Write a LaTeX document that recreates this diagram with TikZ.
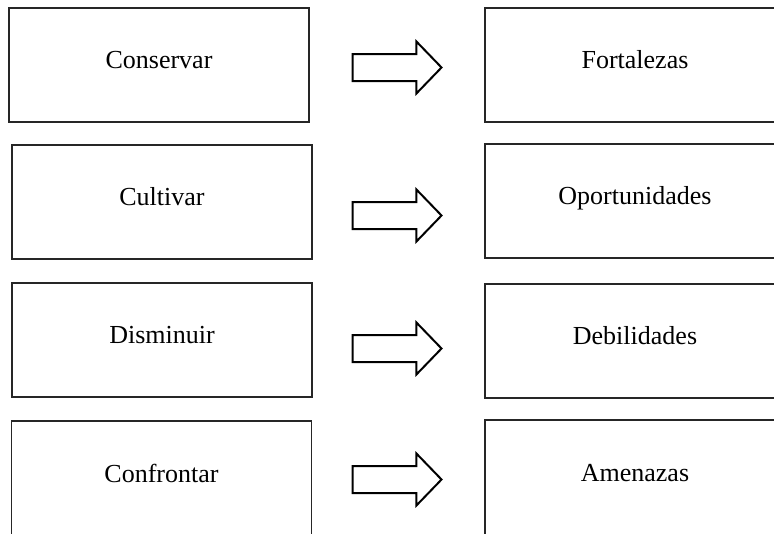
\documentclass[tikz,border=0pt]{standalone}
\usepackage{fontspec}
\setmainfont{Liberation Serif}
\usetikzlibrary{shapes.arrows}
\begin{document}
\begin{tikzpicture}[x=1pt,y=-1pt,
  box/.style={draw=black!85,line width=1.2pt,minimum width=300pt,minimum height=114pt,
    inner sep=0pt,text height=18pt,text depth=12pt,font=\fontsize{26}{30}\selectfont},
  lastbox/.style={box,minimum height=124pt,text height=14pt,text depth=16pt},
  blockarrow/.style={single arrow,draw=black,line width=2pt,fill=white,
    inner xsep=0pt,inner ysep=12.5pt,text height=0pt,text depth=0pt,
    minimum height=89pt,single arrow head extend=12.5pt,single arrow tip angle=92}]
\clip (0,0) rectangle (774,533);
\useasboundingbox (0,0) rectangle (774,533);
\fill[white] (0,0) rectangle (774,533);
% left boxes
\node[box] (l1) at (159,65) {Conservar};
\node[box] (l2) at (162,202) {Cultivar};
\node[box] (l3) at (162,340) {Disminuir};
\node[lastbox] (l4) at (161.5,483) {Confrontar};
% right boxes
\node[box] (r1) at (635,65) {Fortalezas};
\node[box] (r2) at (635,201) {Oportunidades};
\node[box] (r3) at (635,341) {Debilidades};
\node[lastbox] (r4) at (635,482) {Amenazas};
% arrows
\node[blockarrow] (a1) at (390.5,67.5) {};
\node[blockarrow] (a2) at (390.5,215.5) {};
\node[blockarrow] (a3) at (390.5,348.5) {};
\node[blockarrow] (a4) at (390.5,479.5) {};
\end{tikzpicture}
\end{document}
